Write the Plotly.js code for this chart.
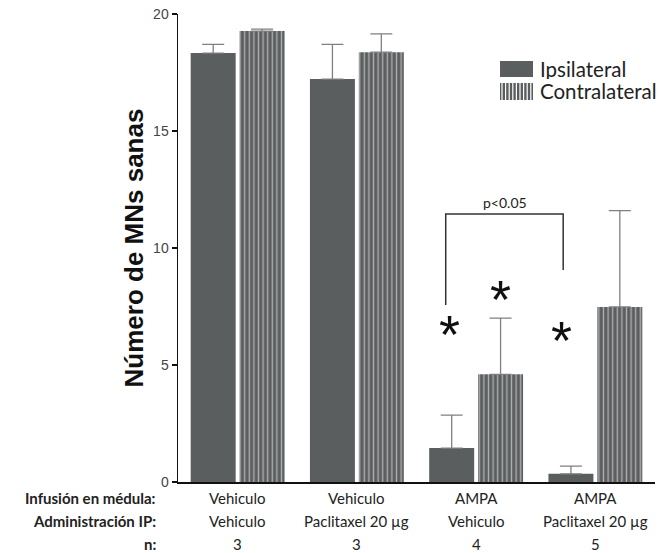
<!DOCTYPE html>
<html><head><meta charset="utf-8">
<script src="https://cdn.plot.ly/plotly-3.0.1.min.js"></script>
<style>body{margin:0;background:#fff}#c{width:665px;height:553px}</style>
</head><body><div id="c"></div>
<script>
const groups = ['g1','g2','g3','g4'];
const infusion = ['Vehiculo','Vehiculo','AMPA','AMPA'];
const administracion = ['Vehiculo','Paclitaxel 20 µg','Vehiculo','Paclitaxel 20 µg'];
const nValues = ['3','3','4','5'];
const ipsiMean = [18.33, 17.22, 1.45, 0.35];
const ipsiErr = [0.37, 1.48, 1.41, 0.33];
const contraMean = [19.27, 18.37, 4.6, 7.48];
const contraErr = [0.08, 0.78, 2.4, 4.12];
const seriesNames = ['Ipsilateral', 'Contralateral'];
const rowHeaders = ['Infusión en médula:','Administración IP:','n:'];
const rowValues = [infusion, administracion, nValues];
const starX = [1.776, 2.203, 2.72];
const starY = [6.62, 8.12, 6.37];

const barColor = '#5b5e5f';
const errStyle = {type:'data', symmetric:false, color:'#808080', thickness:1.3, width:11};
const zeros = ipsiMean.map(()=>0);

const traces = [
  {type:'bar', name:seriesNames[0], x:groups, y:ipsiMean,
   marker:{color:barColor, line:{width:0}},
   error_y:Object.assign({array:ipsiErr, arrayminus:zeros}, errStyle)},
  {type:'bar', name:seriesNames[1], x:groups, y:contraMean,
   marker:{color:barColor, line:{width:0},
     pattern:{shape:'|', fgcolor:'#ffffff', bgcolor:barColor, size:4.6, solidity:0.3, fillmode:'overlay'}},
   error_y:Object.assign({array:contraErr, arrayminus:zeros}, errStyle)}
];

// plot-area geometry helpers (pixels -> paper)
const L = 178, R = 655, T = 14, B = 482;
const px = v => (v - L) / (R - L);
const py = v => (B - v) / (B - T);

const rowFont = {family:'Lato, "Open Sans", sans-serif', size:15, color:'#222'};
const rowYs = [-0.034, -0.083, -0.132];
const annotations = [];
rowValues.forEach((vals, r) => {
  annotations.push({xref:'paper', yref:'paper', x:-0.042, y:rowYs[r], xanchor:'right', yanchor:'middle',
    text:'<b>'+rowHeaders[r]+'</b>', showarrow:false, font:rowFont});
  vals.forEach((v, i) => annotations.push({xref:'x', yref:'paper', x:groups[i], y:rowYs[r],
    xanchor:'center', yanchor:'middle', text:v, showarrow:false, font:rowFont}));
});
starX.forEach((sx, i) => annotations.push({xref:'x', yref:'y', x:sx, y:starY[i], text:'*',
  showarrow:false, xanchor:'center', yanchor:'middle', font:{family:'Arial', size:54, color:'#111'}, yshift:-7}));
annotations.push({xref:'x', yref:'y', x:2.24, y:11.45, yanchor:'bottom', text:'p<0.05', showarrow:false,
  font:{family:'Lato, "Open Sans", sans-serif', size:14, color:'#222'}, yshift:1});

// custom legend (swatches + labels)
const legFont = {family:'Lato, "Open Sans", sans-serif', size:20.5, color:'#222'};
const legRows = [{top:61, bot:77}, {top:83, bot:100}];
seriesNames.forEach((nm, i) => annotations.push({xref:'paper', yref:'paper', x:px(539),
  y:py((legRows[i].top + legRows[i].bot)/2), xanchor:'left', yanchor:'middle', text:nm, showarrow:false,
  font:legFont, height:20, borderpad:0}));

const lineS = {color:'#333', width:1.5};
const shapes = [
  {type:'path', xref:'x', yref:'y', path:'M1.745,7.56 L1.745,11.45 L2.73,11.45 L2.73,9.06', line:lineS}
];
legRows.forEach((rw) => shapes.push({type:'rect', xref:'paper', yref:'paper', x0:px(500), x1:px(533),
  y0:py(rw.bot), y1:py(rw.top), fillcolor:barColor, line:{width:0}}));
for (let s = 502; s < 533; s += 3.6) {
  shapes.push({type:'line', xref:'paper', yref:'paper', x0:px(s), x1:px(s), y0:py(legRows[1].bot), y1:py(legRows[1].top),
    line:{color:'#ffffff', width:1.2}});
}

const layout = {
  width:665, height:553,
  margin:{l:L, r:665-R, t:T, b:553-B},
  paper_bgcolor:'#fff', plot_bgcolor:'#fff',
  barmode:'group', bargap:0.18, bargroupgap:0.08,
  showlegend:false,
  xaxis:{type:'category', range:[-0.5,3.5], showticklabels:false, ticks:'', showline:true,
    linecolor:'#111', linewidth:1.5, showgrid:false, zeroline:false, fixedrange:true},
  yaxis:{range:[0,20], tickvals:[0,5,10,15,20], ticks:'outside', ticklen:5, tickwidth:1.3, tickcolor:'#111',
    showline:true, linecolor:'#111', linewidth:1.5, showgrid:false, zeroline:false,
    tickfont:{family:'Arial', size:14, color:'#444'},
    title:{text:'<b>Número de MNs sanas</b>', font:{family:'Arial', size:26, color:'#111'}, standoff:2}},
  annotations:annotations, shapes:shapes
};
Plotly.newPlot('c', traces, layout, {displayModeBar:false, staticPlot:true});
</script></body></html>
